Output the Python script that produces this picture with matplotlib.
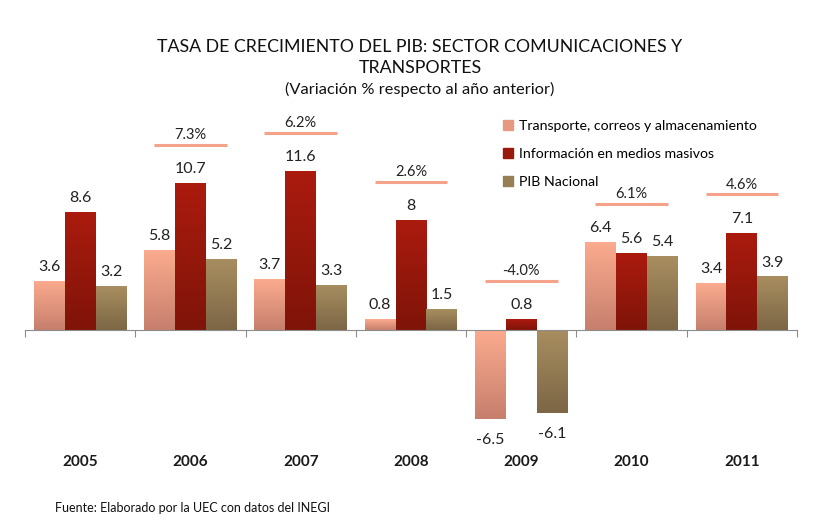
import numpy as np
import matplotlib.pyplot as plt
from matplotlib.colors import LinearSegmentedColormap
import matplotlib.transforms as mtransforms

plt.rcParams['font.family'] = ['Lato', 'DejaVu Sans']

# data
years = ['2005', '2006', '2007', '2008', '2009', '2010', '2011']
transporte = [3.6, 5.8, 3.7, 0.8, -6.5, 6.4, 3.4]
informacion = [8.6, 10.7, 11.6, 8, 0.8, 5.6, 7.1]
pib_nacional = [3.2, 5.2, 3.3, 1.5, -6.1, 5.4, 3.9]
sector_total = [None, 7.3, 6.2, 2.6, -4.0, 6.1, 4.6]

series = [
    ('Transporte, correos y almacenamiento', transporte, '#fbab8e', '#c67f6d'),
    ('Información en medios masivos', informacion, '#ab1b0e', '#7f1409'),
    ('PIB Nacional', pib_nacional, '#a88e60', '#7c6645'),
]

fig = plt.figure(figsize=(8.17, 5.27), dpi=100)
ax = fig.add_axes([0.0306, 0.166, 0.945, 0.572])
ax.set_xlim(-0.5, 6.5)
ax.set_ylim(-8, 14)

x = np.arange(len(years))
width = 0.28
grad = np.linspace(0, 1, 256).reshape(-1, 1)

handles = []
for i, (name, vals, top, bottom) in enumerate(series):
    pos = x + (i - 1) * width
    bars = ax.bar(pos, vals, width, color='none', edgecolor='none', zorder=2)
    cmap = LinearSegmentedColormap.from_list(name, [bottom, top])
    for b, v in zip(bars, vals):
        x0, y0 = b.get_x(), b.get_y()
        w, h = b.get_width(), b.get_height()
        lo, hi = min(y0, y0 + h), max(y0, y0 + h)
        img = ax.imshow(grad, cmap=cmap, aspect='auto', origin='lower',
                        extent=[x0, x0 + w, lo, hi], zorder=2)
        img.set_clip_path(b)
        # value label
        if v >= 0:
            ax.annotate(f'{v:g}', (x0 + w / 2, v), xytext=(0, 5),
                        textcoords='offset points', ha='center', va='bottom',
                        fontsize=11.5, color='#222222')
        else:
            ax.annotate(f'{v:g}', (x0 + w / 2, v), xytext=(0, -10),
                        textcoords='offset points', ha='center', va='top',
                        fontsize=11.5, color='#222222')
    handles.append(plt.Rectangle((0, 0), 1, 1, color=cmap(0.6)))

ax.set_xlim(-0.5, 6.5)
ax.set_ylim(-8, 14)

# sector growth markers above each group
for xi, val in enumerate(sector_total):
    if val is None:
        continue
    top = max(transporte[xi], informacion[xi], pib_nacional[xi])
    ly = top + 2.8
    ax.plot([xi - 0.33, xi + 0.33], [ly, ly], color='#f4a38a', lw=2.2,
            solid_capstyle='butt', clip_on=False, zorder=3)
    ax.text(xi, ly + 0.2, f'{val:.1f}%', ha='center', va='bottom',
            fontsize=10.5, color='#222222')

# axis at zero
for s in ['top', 'right', 'left']:
    ax.spines[s].set_visible(False)
ax.spines['bottom'].set_position(('data', 0))
ax.spines['bottom'].set_color('#8c8c8c')
ax.spines['bottom'].set_zorder(4)
ax.set_xticks(np.arange(-0.5, 7, 1))
ax.set_xticklabels([])
ax.tick_params(axis='x', direction='out', length=5, color='#8c8c8c')
ax.set_yticks([])

trans = mtransforms.blended_transform_factory(ax.transData, ax.transAxes)
for xi, yr in enumerate(years):
    ax.text(xi, -0.075, yr, transform=trans, ha='center', va='center',
            fontsize=11, fontweight='bold', color='#1a1a1a')

fig.text(0.514, 0.911, 'TASA DE CRECIMIENTO DEL PIB: SECTOR COMUNICACIONES Y',
         ha='center', va='center', fontsize=12.8, color='#111111')
fig.text(0.514, 0.871, 'TRANSPORTES', ha='center', va='center',
         fontsize=12.8, color='#111111')
fig.text(0.514, 0.831, '(Variación % respecto al año anterior)', ha='center',
         va='center', fontsize=11.8, color='#111111')

fig.legend(handles, [s[0] for s in series], loc='upper left',
           bbox_to_anchor=(0.6, 0.797), frameon=False, fontsize=10.2,
           handlelength=0.7, handleheight=0.7, handletextpad=0.4,
           labelspacing=1.15)

fig.text(0.067, 0.036, 'Fuente: Elaborado por la UEC con datos del INEGI',
         ha='left', va='center', fontsize=9, color='#111111')

fig.savefig('out.png', dpi=100)
